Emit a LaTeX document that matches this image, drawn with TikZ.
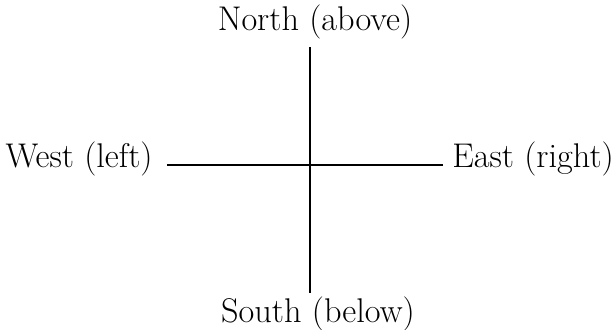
\documentclass[tikz,border=0pt]{standalone}
\usepackage{tikz}
\usetikzlibrary{calc}

\begin{document}
\begin{tikzpicture}[scale=1.0,
    compass/.style={font=\fontsize{19.5}{23}\selectfont, inner sep=0pt},
    axisline/.style={line width=1pt, black}]

    % --- 1. SETTING THE BOUNDARIES & PARAMETERS ---
    \useasboundingbox (-6.2,-3.28) rectangle (6.04,3.3);
    \def\xLeft{-2.86}   % left end of the west-east line
    \def\xRight{2.66}   % right end of the west-east line

    % --- 2. THE CROSSING POINT ---
    \coordinate (centre) at (0,0);

    % --- 3. COMPASS LABELS ---
    \node[compass, anchor=base, inner ysep=0.15cm] (north) at (0.1,2.68) {North (above)};
    \node[compass, anchor=base, inner ysep=0.05cm] (south) at (0.16,-3.14) {South (below)};
    \node[compass, anchor=mid east, inner xsep=0.28cm] (west) at (\xLeft,0.02) {West (left)};
    \node[compass, anchor=mid west, inner xsep=0.18cm] (east) at (\xRight,0.02) {East (right)};

    % --- 4. THE TWO AXES ---
    \draw[axisline] (centre |- north.south) -- (centre |- south.north);
    \draw[axisline] (west.east |- centre) -- (east.west |- centre);

\end{tikzpicture}
\end{document}
